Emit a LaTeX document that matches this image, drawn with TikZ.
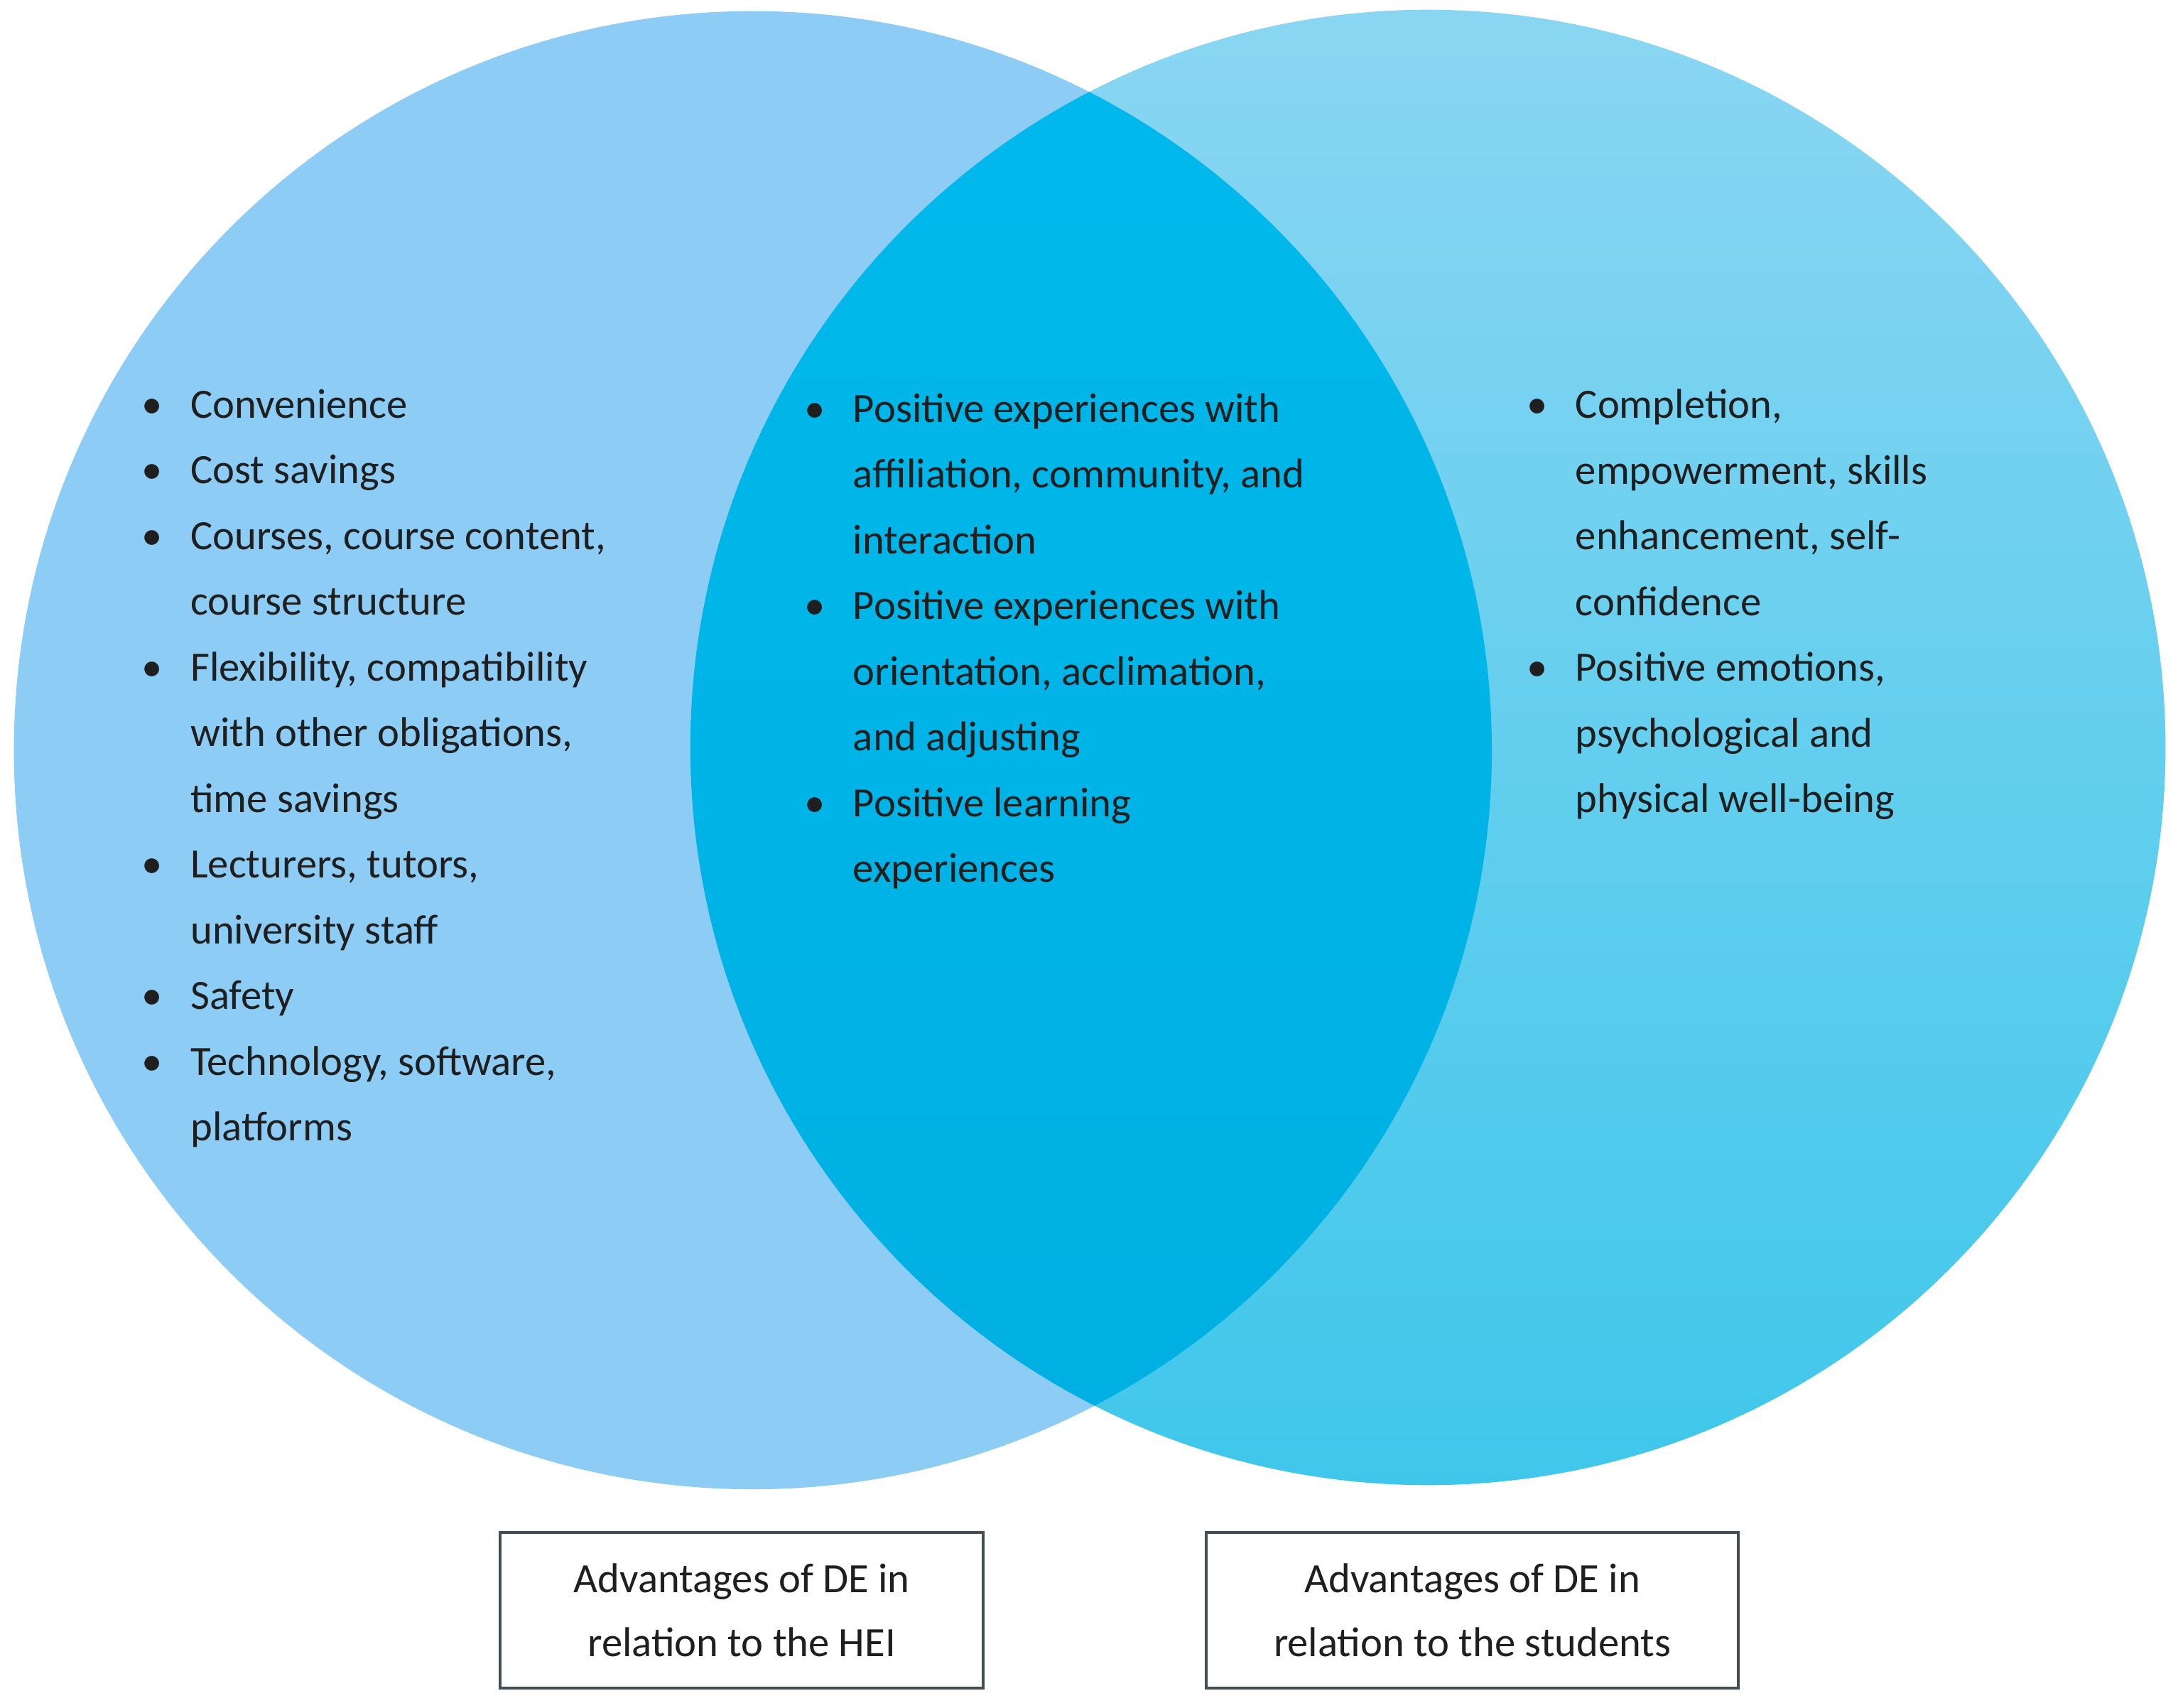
\documentclass[tikz,border=0pt]{standalone}
\usepackage{fontspec}
\setmainfont{Carlito}
\begin{document}
\begin{tikzpicture}[x=1pt,y=1pt,
  txt/.style={anchor=north west,inner sep=0pt,align=left,text=black!88,font=\fontsize{30}{47.3}\selectfont},
  lbl/.style={draw=black!60!cyan!60!black,line width=2pt,minimum width=348pt,minimum height=112pt,align=center,text=black!88,font=\fontsize{30}{46}\selectfont,fill=white}]
\newcommand{\bu}{\makebox[35pt][l]{\textbullet}}
\newcommand{\ct}{\hspace*{35pt}}
\definecolor{lc}{HTML}{8DCDF5}
\definecolor{rtop}{HTML}{8AD6F2}
\definecolor{rbot}{HTML}{3FC7EB}
\definecolor{mtop}{HTML}{00B9EC}
\definecolor{mbot}{HTML}{00AFE2}
\useasboundingbox (0,0) rectangle (1568,-1229);
\fill[white] (0,0) rectangle (1568,-1229);
\coordinate (cl) at (542,-540);
\coordinate (cr) at (1028,-538);
\fill[lc] (cl) circle (532);
\shade[top color=rtop,bottom color=rbot] (cr) circle (531);
\begin{scope}
\clip (cl) circle (532);
\shade[top color=mtop,bottom color=mbot] (cr) circle (531);
\end{scope}
\node[txt] (l) at (102,-280) {\bu Convenience\\ \bu Cost savings\\ \bu Courses, course content,\\ \ct course structure\\ \bu Flexibility, compatibility\\ \ct with other obligations,\\ \ct time savings\\ \bu Lecturers, tutors,\\ \ct university staff\\ \bu Safety\\ \bu Technology, software,\\ \ct platforms};
\node[txt] (m) at (579,-283) {\bu Positive experiences with\\ \ct affiliation, community, and\\ \ct interaction\\ \bu Positive experiences with\\ \ct orientation, acclimation,\\ \ct and adjusting\\ \bu Positive learning\\ \ct experiences};
\node[txt] (r) at (1099,-280) {\bu Completion,\\ \ct empowerment, skills\\ \ct enhancement, self-\\ \ct confidence\\ \bu Positive emotions,\\ \ct psychological and\\ \ct physical well-being};
\node[lbl] (b1) at (534,-1159) {Advantages of DE in\\ relation to the HEI};
\node[lbl,minimum width=383pt] (b2) at (1060,-1159) {Advantages of DE in\\ relation to the students};
\end{tikzpicture}
\end{document}
